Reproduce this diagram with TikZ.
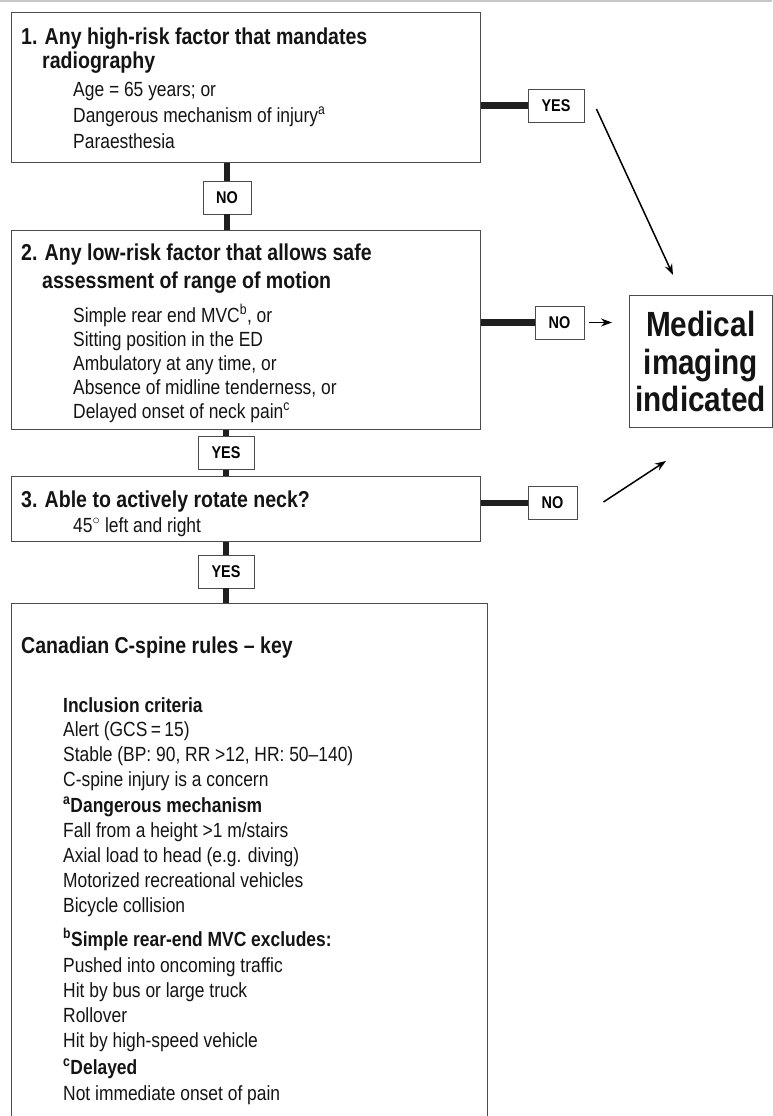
\documentclass[tikz,border=0pt]{standalone}
\usepackage{fontspec}
\setmainfont{Liberation Sans}[FakeStretch=0.85]
\usetikzlibrary{arrows.meta}

\begin{document}
\begin{tikzpicture}[
    x=1pt, y=-1pt,
    >={Stealth[length=11pt,width=8pt]},
    box/.style={draw=black!70,line width=1pt,anchor=north west,inner sep=0pt},
    tag/.style={draw=black!70,line width=0.9pt,fill=white,inner sep=0pt,
        minimum height=33pt,font=\fontsize{17}{20}\selectfont\bfseries},
    link/.style={draw=black!88,line width=6.5pt},
    go/.style={->,line width=1.5pt},
    txt/.style={anchor=base west,inner sep=0pt,text=black!92},
    head/.style={txt,font=\fontsize{23}{24}\selectfont\bfseries},
    sub/.style={txt,font=\fontsize{20.5}{25}\selectfont\bfseries},
    body/.style={txt,font=\fontsize{20.5}{25}\selectfont}
]
    \useasboundingbox (0,0) rectangle (772,1116);
    \fill[black!22] (0,0) rectangle (772,2);

    % the three questions, the key and the outcome
    \node[box,minimum width=469pt,minimum height=150pt] (q1) at (11,12) {};
    \node[box,minimum width=469pt,minimum height=199pt] (q2) at (11,230) {};
    \node[box,minimum width=469pt,minimum height=65pt] (q3) at (11,476) {};
    \node[box,minimum width=476pt,minimum height=530pt] (key) at (11,603) {};
    \node[box,minimum width=142.5pt,minimum height=132pt] (med) at (629,295) {};

    % answers
    \node[tag,minimum width=48pt] (n1) at (227,197.5) {NO};
    \node[tag,minimum width=56pt] (y2) at (226,453) {YES};
    \node[tag,minimum width=56pt] (y3) at (226,571.5) {YES};
    \node[tag,minimum width=56pt] (y1) at (556,105.5) {YES};
    \node[tag,minimum width=49pt] (n2) at (559.5,322.5) {NO};
    \node[tag,minimum width=49pt] (n3) at (552.5,503) {NO};

    % heavy bars from the questions to their answers
    \draw[link] (q1.south -| n1.north) -- (n1.north) (n1.south) -- (q2.north -| n1.south);
    \draw[link] (q2.south -| y2.north) -- (y2.north) (y2.south) -- (q3.north -| y2.south);
    \draw[link] (q3.south -| y3.north) -- (y3.north) (y3.south) -- (key.north -| y3.south);
    \draw[link] (q1.east |- y1.west) -- (y1.west);
    \draw[link] (q2.east |- n2.west) -- (n2.west);
    \draw[link] (q3.east |- n3.west) -- (n3.west);

    % arrows to the outcome
    \draw[go] ([shift={(12,3.5)}]y1.east) -- ([shift={(44,-20)}]med.north west);
    \draw[go] ([xshift=5pt]n2.east) -- ([xshift=-17pt]n2.east -| med.west);
    \draw[go] ([shift={(26,-1)}]n3.east) -- ([shift={(37,33)}]med.south west);

    \node[align=center,inner sep=0pt,text=black!92,
        font=\fontsize{35}{37.5}\selectfont\bfseries]
        (medtext) at (med.center) {Medical\\imaging\\indicated};

    % question 1
    \node[head] (q1a) at (21,45) {1. Any high-risk factor that mandates};
    \node[head] (q1b) at (42,68.5) {radiography};
    \node[body] (q1c) at (73,96) {Age = 65 years; or};
    \node[body] (q1d) at (73,122.5) {Dangerous mechanism of injury\textsuperscript{a}};
    \node[body] (q1e) at (73,148) {Paraesthesia};

    % question 2
    \node[head] (q2a) at (21,260) {2. Any low-risk factor that allows safe};
    \node[head] (q2b) at (42,288) {assessment of range of motion};
    \node[body] (q2c) at (73,322) {Simple rear end MVC\textsuperscript{b}, or};
    \node[body] (q2d) at (73,346) {Sitting position in the ED};
    \node[body] (q2e) at (73,370) {Ambulatory at any time, or};
    \node[body] (q2f) at (73,394) {Absence of midline tenderness, or};
    \node[body] (q2g) at (73,418) {Delayed onset of neck pain\textsuperscript{c}};

    % question 3
    \node[head] (q3a) at (21,507) {3. Able to actively rotate neck?};
    \node[body] (q3b) at (73,532) {45${}^{\circ}$ left and right};

    % key
    \node[head] (k0) at (21,653) {Canadian C-spine rules -- key};
    \node[sub] (k1) at (63,712) {Inclusion criteria};
    \node[body] (k2) at (63,736) {Alert (GCS\,=\,15)};
    \node[body] (k3) at (63,761) {Stable (BP: 90, RR >12, HR: 50--140)};
    \node[body] (k4) at (63,786) {C-spine injury is a concern};
    \node[sub] (k5) at (63,812) {\textsuperscript{a}Dangerous mechanism};
    \node[body] (k6) at (63,837) {Fall from a height >1 m/stairs};
    \node[body] (k7) at (63,862) {Axial load to head (e.g. diving)};
    \node[body] (k8) at (63,887) {Motorized recreational vehicles};
    \node[body] (k9) at (63,912) {Bicycle collision};
    \node[sub] (k10) at (63,946) {\textsuperscript{b}Simple rear-end MVC excludes:};
    \node[body] (k11) at (63,972) {Pushed into oncoming traffic};
    \node[body] (k12) at (63,997) {Hit by bus or large truck};
    \node[body] (k13) at (63,1022) {Rollover};
    \node[body] (k14) at (63,1047) {Hit by high-speed vehicle};
    \node[sub] (k15) at (63,1074) {\textsuperscript{c}Delayed};
    \node[body] (k16) at (63,1100) {Not immediate onset of pain};
\end{tikzpicture}
\end{document}
